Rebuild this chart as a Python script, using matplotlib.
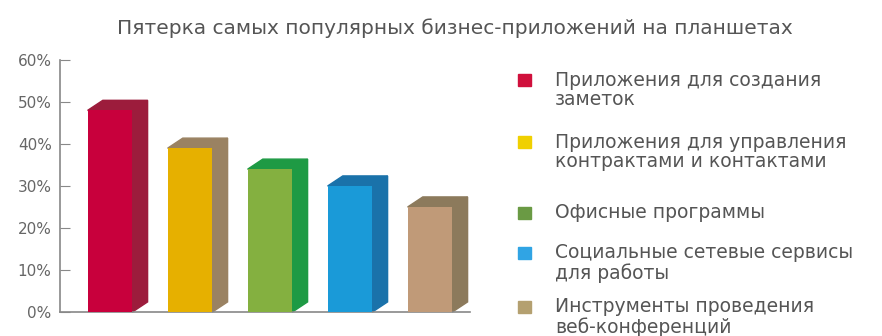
import matplotlib.pyplot as plt
from matplotlib.patches import Polygon, Rectangle

# Данные
categories = [
    "Приложения для создания\nзаметок",
    "Приложения для управления\nконтрактами и контактами",
    "Офисные программы",
    "Социальные сетевые сервисы\nдля работы",
    "Инструменты проведения\nвеб-конференций",
]
values = [48, 39, 34, 30, 25]
yticks = [0, 10, 20, 30, 40, 50, 60]
title = "Пятерка самых популярных бизнес-приложений на планшетах"

front_colors = ["#c8003c", "#e6b000", "#84b040", "#1a9ad8", "#c09a78"]
side_colors = ["#9c1c3c", "#9a8262", "#1e9a44", "#1a72aa", "#8c7a5c"]
legend_colors = ["#d0103c", "#f0d000", "#6a9a44", "#30a4e4", "#b4a070"]

W, H = 882, 336
fig = plt.figure(figsize=(W / 100, H / 100), dpi=100)
ax = fig.add_axes([60 / W, (H - 312) / H, 410 / W, 252 / H])

x = list(range(len(values)))
width = 0.56
dx = 0.19   # глубина "3D" по x
dy = 2.4    # глубина "3D" по y

ax.bar(x, values, width=width, color=front_colors, zorder=3)

# боковые и верхние грани
for xi, v, sc in zip(x, values, side_colors):
    right = xi + width / 2
    left = xi - width / 2
    side = Polygon([(right, 0), (right + dx, dy), (right + dx, v + dy), (right, v)],
                   closed=True, color=sc, zorder=2, clip_on=False)
    top = Polygon([(left, v), (left + dx, v + dy), (right + dx, v + dy), (right, v)],
                  closed=True, color=sc, zorder=2, clip_on=False)
    ax.add_patch(side)
    ax.add_patch(top)

ax.set_xlim(-0.625, 4.5)
ax.set_ylim(0, 60)
ax.set_yticks(yticks)
ax.set_yticklabels([f"{t}%" for t in yticks], color="#666666", fontsize=11)
ax.tick_params(axis="y", direction="in", length=7, color="#888888", pad=6)
ax.set_xticks([])

for s in ["top", "right"]:
    ax.spines[s].set_visible(False)
ax.spines["left"].set_color("#888888")
ax.spines["bottom"].set_color("#888888")
ax.spines["left"].set_linewidth(1.2)
ax.spines["bottom"].set_linewidth(1.2)

fig.text(455 / W, 1 - 28 / H, title, ha="center", va="center",
         fontsize=14.5, color="#555555")

# Легенда (центры первых строк, px от верха)
legend_y = [80, 142, 213, 253, 307]
for ly, lab, lc in zip(legend_y, categories, legend_colors):
    fig.patches.append(Rectangle((518 / W, 1 - (ly + 6) / H), 13 / W, 12 / H,
                                 transform=fig.transFigure, color=lc))
    n = lab.count("\n")
    fig.text(555 / W, 1 - (ly + 10 * n) / H, lab, ha="left", va="center",
             fontsize=13.5, color="#555555", linespacing=1.05)

fig.savefig("out.png", dpi=100)
